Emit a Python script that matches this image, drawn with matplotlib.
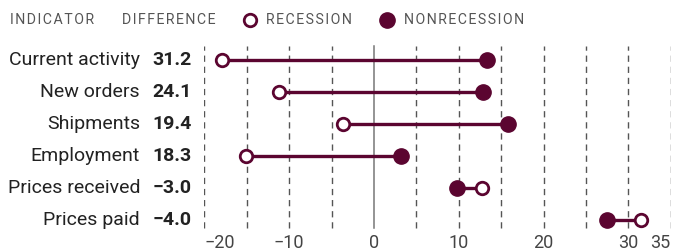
import matplotlib
matplotlib.use('Agg')

import matplotlib.pyplot as plt
import matplotlib.transforms as mtransforms

# data
indicators = ['Current activity', 'New orders', 'Shipments', 'Employment',
              'Prices received', 'Prices paid']
difference = ['31.2', '24.1', '19.4', '18.3', '\u22123.0', '\u22124.0']
recession = [-17.9, -11.2, -3.6, -15.1, 12.8, 31.5]
nonrecession = [13.3, 12.9, 15.8, 3.2, 9.8, 27.5]
xticks = [-20, -10, 0, 10, 20, 30, 35]

maroon = '#5b0530'
grey = '#444444'
plt.rcParams['font.family'] = ['Roboto', 'DejaVu Sans']

W, H = 675, 252
fig = plt.figure(figsize=(W / 100, H / 100), dpi=100)
ax = fig.add_axes([204.4 / W, 1 - 236 / H, (670.7 - 204.4) / W, 192 / H])
ax.set_xlim(-20, 35)
ax.set_ylim(len(indicators) - 0.5, -0.5)
ax.axis('off')

# grid
for g in range(-20, 36, 5):
    if g == 0:
        ax.axvline(0, ymin=0.04, ymax=0.99, color='#777777', lw=1.1)
    else:
        ax.axvline(g, ymin=0.04, ymax=0.99, color='#555555', lw=1,
                   ls=(0, (4.5, 3.5)))

rows = range(len(indicators))
for i in rows:
    ax.plot([recession[i], nonrecession[i]], [i, i], color=maroon, lw=2.4,
            solid_capstyle='butt', zorder=3)
ax.plot(nonrecession, list(rows), 'o', color=maroon, ms=11, zorder=4)
ax.plot(recession, list(rows), 'o', mfc='white', mec=maroon, mew=2.0, ms=9, zorder=4)

# x tick labels
tx = mtransforms.blended_transform_factory(ax.transData, fig.transFigure)
for t in xticks:
    ha = 'center'
    if t == xticks[0]:
        ha = 'left'
    elif t == xticks[-1]:
        ha = 'right'
    ax.text(t, 1 - 247.5 / H, str(t).replace('-', '\u2212'), transform=tx,
            ha=ha, va='baseline', fontsize=13, color=grey)

# row labels
tr = mtransforms.blended_transform_factory(fig.transFigure, ax.transData)
for i in rows:
    ax.text(140 / W, i, indicators[i], transform=tr, ha='right', va='center',
            fontsize=14, color='#222222')
    ax.text(192 / W, i, difference[i], transform=tr, ha='right', va='center',
            fontsize=14, color='#222222', fontweight='bold')

# header
hy = 1 - 20 / H
hk = dict(fontsize=10.2, color='#555555', va='center')
fig.text(10 / W, hy, '\u200a'.join('INDICATOR'), **hk)
fig.text(122 / W, hy, '\u200a'.join('DIFFERENCE'), **hk)
fig.text(266 / W, hy, '\u200a'.join('RECESSION'), **hk)
fig.text(404 / W, hy, '\u200a'.join('NONRECESSION'), **hk)
fig.lines.append(plt.Line2D([250 / W], [hy], marker='o', mfc='white', mec=maroon,
                            mew=2.0, ms=9, transform=fig.transFigure))
fig.lines.append(plt.Line2D([387 / W], [hy], marker='o', color=maroon, ms=11,
                            transform=fig.transFigure))

fig.savefig('out.png', dpi=100)
